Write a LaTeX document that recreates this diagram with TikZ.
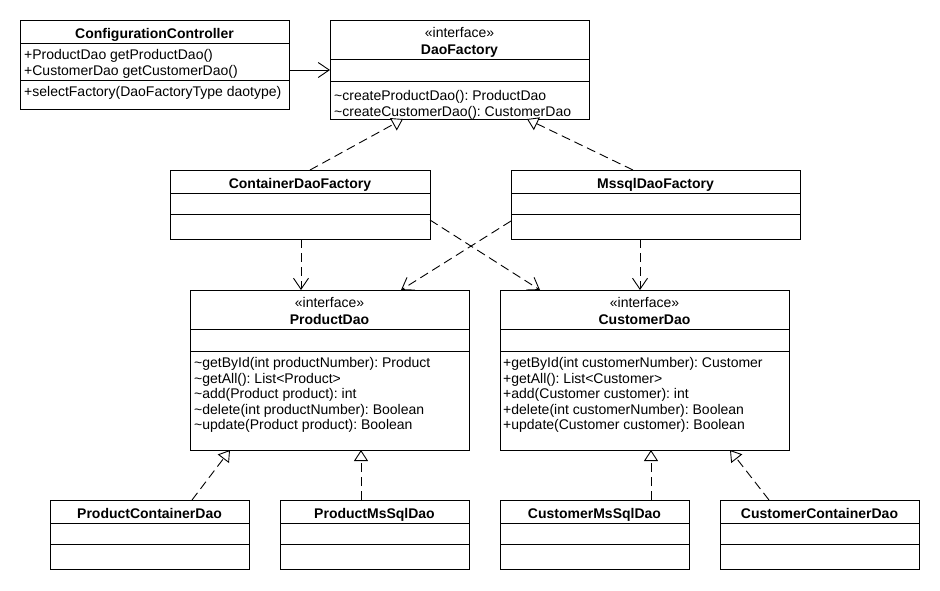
\documentclass[tikz,border=0pt]{standalone}
\usepackage{fontspec}
\setmainfont{Liberation Sans}
\usetikzlibrary{arrows.meta,calc}
\frenchspacing

% class box: name, x1, y1, x2, y2, first divider, second divider
\newcommand\umlbox[7]{%
  \node[box, minimum width={(#4-#2)*1pt}, minimum height={(#5-#3)*1pt}] (#1) at ({(#2+#4)/2},{(#3+#5)/2}) {};
  \draw[rule] (#1.west |- 0,#6) -- (#1.east |- 0,#6);
  \draw[rule] (#1.west |- 0,#7) -- (#1.east |- 0,#7);}

% operation lines: name prefix, x, first baseline, list of lines
\newcommand\umlops[4]{%
  \foreach \t [count=\i from 0] in {#4} {\node[txt, anchor=base west] (#1\i) at (#2,{#3+15.5*\i}) {\t};}}

\begin{document}
\begin{tikzpicture}[x=1pt,y=-1pt,
  box/.style={draw=black, line width=0.9pt, fill=white, rectangle, inner sep=0pt, outer sep=0pt},
  rule/.style={line width=0.9pt},
  txt/.style={inner sep=0pt, font=\fontsize{14}{15.5}\selectfont\frenchspacing},
  ttl/.style={inner sep=0pt, anchor=base, font=\fontsize{14}{15.5}\selectfont\bfseries},
  stereo/.style={inner sep=0pt, anchor=base, font=\fontsize{14}{15.5}\selectfont},
  assoc/.style={line width=0.9pt, -{Straight Barb[length=11pt,width=15pt]}},
  depend/.style={assoc, dash pattern=on 9pt off 5pt},
  realize/.style={line width=0.9pt, dash pattern=on 9pt off 5pt, -{Triangle[length=11pt,width=14pt,open,fill=white]}}]

\fill[white] (0,0) rectangle (940,590);
\useasboundingbox (0,0) rectangle (940,590);

% boxes
\umlbox{cc}{20}{20}{289}{109}{43}{80}
\umlbox{df}{330}{20}{589}{119}{59}{81}
\umlbox{cdf}{170}{170}{430}{239}{193}{214}
\umlbox{mdf}{511}{170}{800}{239}{193}{214}
\umlbox{pd}{190}{290}{469}{450}{329}{351}
\umlbox{cd}{500}{290}{789}{450}{329}{351}
\umlbox{pcd}{50}{500}{249}{569}{523}{544}
\umlbox{pmd}{280}{500}{469}{569}{523}{544}
\umlbox{cmd}{500}{500}{689}{569}{523}{544}
\umlbox{ccd}{720}{500}{919}{569}{523}{544}

% titles
\node[ttl] (cct) at (154.5,38.5) {ConfigurationController};
\node[stereo] (dfs) at (459.5,37.5) {«interface»};
\node[ttl] (dft) at (459.5,54.5) {DaoFactory};
\node[ttl] (cdft) at (300,188.5) {ContainerDaoFactory};
\node[ttl] (mdft) at (655.5,188.5) {MssqlDaoFactory};
\node[stereo] (pds) at (329.5,307) {«interface»};
\node[ttl] (pdt) at (329.5,324) {ProductDao};
\node[stereo] (cds) at (644.5,307) {«interface»};
\node[ttl] (cdt) at (644.5,324) {CustomerDao};
\node[ttl] (pcdt) at (149.5,518) {ProductContainerDao};
\node[ttl] (pmdt) at (374.5,518) {ProductMsSqlDao};
\node[ttl] (cmdt) at (594.5,518) {CustomerMsSqlDao};
\node[ttl] (ccdt) at (819.5,518) {CustomerContainerDao};

% members and operations
\umlops{cca}{24}{59.5}{+ProductDao getProductDao(),+CustomerDao getCustomerDao()}
\umlops{cco}{24}{96}{+selectFactory(DaoFactoryType daotype)}
\umlops{dfo}{334}{100.5}{\textasciitilde createProductDao(): ProductDao,\textasciitilde createCustomerDao(): CustomerDao}
\umlops{pdo}{194}{367.5}{\textasciitilde getById(int productNumber): Product,\textasciitilde getAll(): List<Product>,\textasciitilde add(Product product): int,\textasciitilde delete(int productNumber): Boolean,\textasciitilde update(Product product): Boolean}
\umlops{cdo}{503}{367.5}{+getById(int customerNumber): Customer,+getAll(): List<Customer>,+add(Customer customer): int,+delete(int customerNumber): Boolean,+update(Customer customer): Boolean}

% connectors
\draw[assoc] (cc.east |- 0,70) -- (df.west |- 0,70);
\draw[realize] ($(cdf.north west)+(140,0)$) -- ($(df.south west)+(73,0)$);
\draw[realize] ($(mdf.north west)+(122,0)$) -- ($(df.south west)+(197,0)$);
\draw[depend] ($(cdf.south west)+(131,0)$) -- ($(pd.north west)+(111,0)$);
\draw[depend] (cdf.east |- 0,220) -- ($(cd.north west)+(40,0)$);
\draw[depend] (mdf.west |- 0,221) -- ($(pd.north west)+(211,0)$);
\draw[depend] ($(mdf.south west)+(129,0)$) -- ($(cd.north west)+(140,0)$);
\draw[realize] ($(pcd.north west)+(142,0)$) -- ($(pd.south west)+(40,0)$);
\draw[realize] ($(pmd.north west)+(81,0)$) -- ($(pd.south west)+(171,0)$);
\draw[realize] ($(cmd.north west)+(151,0)$) -- ($(cd.south west)+(151,0)$);
\draw[realize] ($(ccd.north west)+(49,0)$) -- ($(cd.south west)+(230,0)$);
\end{tikzpicture}
\end{document}
